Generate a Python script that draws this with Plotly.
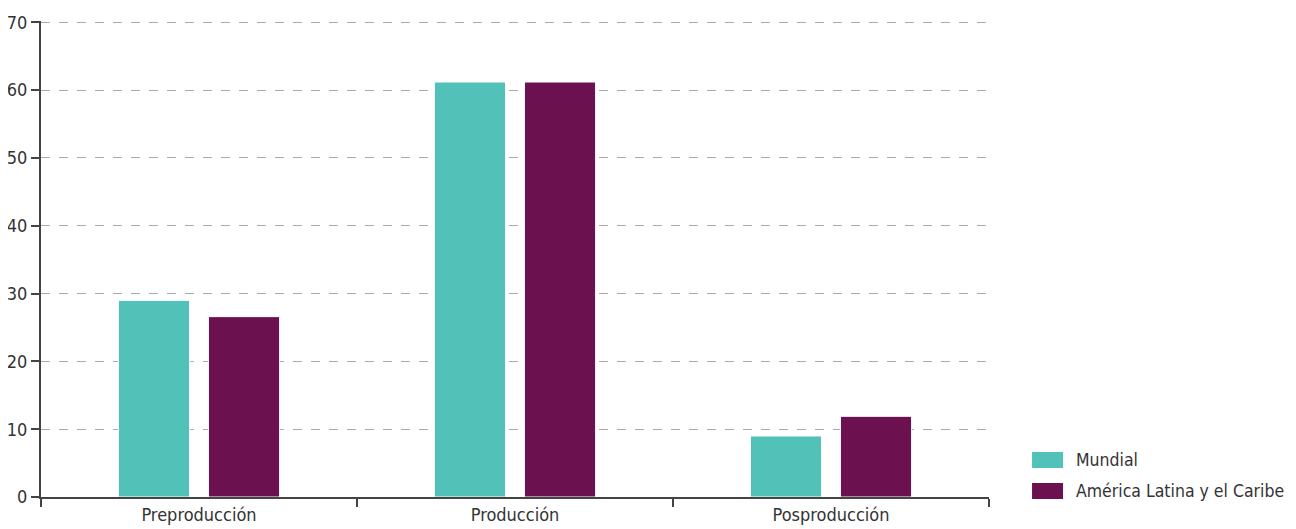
import plotly.graph_objects as go

# Data
categories = ["Preproducción", "Producción", "Posproducción"]
mundial = [29.0, 61.2, 9.0]
america_latina = [26.6, 61.2, 11.9]
series_names = ["Mundial", "América Latina y el Caribe"]
colors = ["#52c2b8", "#6b1150"]
y_ticks = [0, 10, 20, 30, 40, 50, 60, 70]

font_family = "DejaVu Sans Condensed, Liberation Sans Narrow, Roboto, sans-serif"
text_color = "#333333"

fig = go.Figure()
for name, vals, col in zip(series_names, [mundial, america_latina], colors):
    fig.add_trace(go.Bar(
        x=categories,
        y=vals,
        name=name,
        marker=dict(color=col, line=dict(color="white", width=1)),
        showlegend=False,
    ))

# legend drawn by hand: wide swatches like the original
legend_y = [0.0777, 0.0126]
for name, col, ly in zip(series_names, colors, legend_y):
    fig.add_shape(type="rect", xref="paper", yref="paper",
                  x0=1.0454, x1=1.0781, y0=ly - 0.0168, y1=ly + 0.0168,
                  fillcolor=col, line=dict(width=0))
    fig.add_annotation(text=name, xref="paper", yref="paper",
                       x=1.0897, y=ly, xanchor="left", yanchor="middle",
                       showarrow=False, font=dict(size=17.5, color=text_color))

# page body adds an 8px offset, so margins are shifted to compensate
fig.update_layout(
    barmode="group",
    bargap=0.43,
    bargroupgap=0.21,
    width=1296,
    height=529,
    margin=dict(l=33, r=315, t=13, b=40),
    plot_bgcolor="white",
    paper_bgcolor="white",
    font=dict(family=font_family, size=18, color=text_color),
    showlegend=False,
)

fig.update_xaxes(
    showline=True, linecolor="#444444", linewidth=2,
    ticks="outside", tickson="boundaries", ticklen=8, tickwidth=2,
    tickcolor="#444444",
    showgrid=False, automargin=False,
    tickfont=dict(size=18, color=text_color),
)
fig.update_yaxes(
    range=[0, 70.2],
    tickvals=y_ticks,
    showline=True, linecolor="#444444", linewidth=2,
    ticks="outside", ticklen=8, tickwidth=2, tickcolor="#444444",
    showgrid=True, gridcolor="#aaaaaa", griddash="dash", gridwidth=1,
    zeroline=False, automargin=False,
    tickfont=dict(size=18, color=text_color),
)

fig.write_html("out.html")
